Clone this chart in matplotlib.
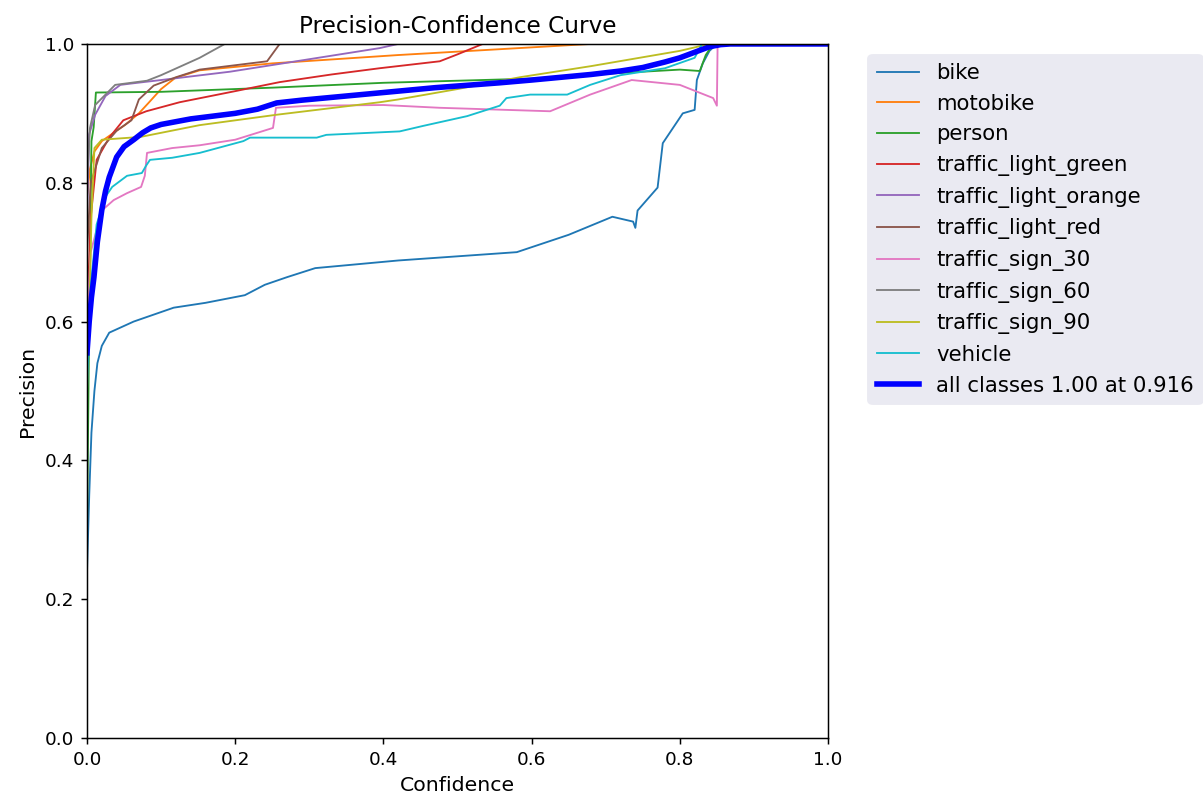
import numpy as np
import matplotlib
matplotlib.use('Agg')
import matplotlib.pyplot as plt

# confidence / precision knots per class
names = ['bike', 'motobike', 'person', 'traffic_light_green', 'traffic_light_orange',
         'traffic_light_red', 'traffic_sign_30', 'traffic_sign_60', 'traffic_sign_90', 'vehicle']

bike_x = [0, 0.003, 0.006, 0.01, 0.014, 0.02, 0.03, 0.063, 0.117, 0.16, 0.213, 0.24, 0.27,
          0.308, 0.42, 0.58, 0.65, 0.709, 0.737, 0.74, 0.743, 0.77, 0.777, 0.804, 0.82,
          0.823, 0.831, 0.84, 0.85, 1.0]
bike_y = [0.24, 0.35, 0.44, 0.5, 0.54, 0.565, 0.584, 0.6, 0.62, 0.627, 0.638, 0.653, 0.664,
          0.677, 0.688, 0.70, 0.725, 0.751, 0.744, 0.735, 0.76, 0.793, 0.857, 0.9, 0.905,
          0.948, 0.972, 0.99, 1.0, 1.0]

motobike_x = [0, 0.004, 0.01, 0.02, 0.04, 0.051, 0.07, 0.083, 0.1, 0.119, 0.152, 0.25, 0.42, 0.534, 0.68, 1.0]
motobike_y = [0.78, 0.82, 0.845, 0.86, 0.875, 0.883, 0.9, 0.915, 0.935, 0.951, 0.962, 0.972, 0.984, 0.991, 1.0, 1.0]

person_x = [0, 0.003, 0.006, 0.009, 0.012, 0.1, 0.25, 0.4, 0.6, 0.7, 0.8, 0.827, 0.835, 0.845, 1.0]
person_y = [0.3, 0.6, 0.86, 0.88, 0.93, 0.931, 0.937, 0.944, 0.95, 0.957, 0.963, 0.961, 0.984, 1.0, 1.0]

tl_green_x = [0, 0.005, 0.013, 0.03, 0.049, 0.08, 0.125, 0.2, 0.26, 0.33, 0.395, 0.476, 0.5, 0.534, 1.0]
tl_green_y = [0.6, 0.75, 0.833, 0.865, 0.89, 0.903, 0.916, 0.932, 0.945, 0.956, 0.965, 0.975, 0.985, 1.0, 1.0]

tl_orange_x = [0, 0.003, 0.011, 0.025, 0.045, 0.06, 0.1, 0.193, 0.3, 0.395, 0.42, 1.0]
tl_orange_y = [0.75, 0.87, 0.898, 0.925, 0.941, 0.943, 0.948, 0.96, 0.978, 0.994, 1.0, 1.0]

tl_red_x = [0, 0.005, 0.02, 0.04, 0.06, 0.07, 0.09, 0.12, 0.152, 0.243, 0.26, 1.0]
tl_red_y = [0.7, 0.8, 0.85, 0.875, 0.89, 0.92, 0.94, 0.952, 0.963, 0.975, 1.0, 1.0]

sign30_x = [0, 0.005, 0.02, 0.036, 0.054, 0.073, 0.078, 0.081, 0.115, 0.152, 0.2, 0.251, 0.255,
            0.3, 0.4, 0.476, 0.625, 0.679, 0.735, 0.8, 0.845, 0.85, 0.851, 1.0]
sign30_y = [0.6, 0.7, 0.76, 0.775, 0.785, 0.794, 0.81, 0.843, 0.85, 0.854, 0.862, 0.879, 0.908,
            0.911, 0.912, 0.908, 0.903, 0.927, 0.948, 0.941, 0.922, 0.911, 1.0, 1.0]

sign60_x = [0, 0.004, 0.011, 0.038, 0.081, 0.1, 0.125, 0.152, 0.186, 1.0]
sign60_y = [0.8, 0.879, 0.912, 0.941, 0.947, 0.955, 0.967, 0.98, 1.0, 1.0]

sign90_x = [0, 0.003, 0.006, 0.01, 0.02, 0.072, 0.152, 0.256, 0.395, 0.42, 0.5, 0.584, 0.68, 0.8, 0.84, 1.0]
sign90_y = [0.5, 0.6, 0.75, 0.85, 0.862, 0.866, 0.883, 0.898, 0.916, 0.92, 0.935, 0.952, 0.968, 0.99, 1.0, 1.0]

vehicle_x = [0, 0.005, 0.013, 0.025, 0.034, 0.054, 0.074, 0.08, 0.085, 0.115, 0.152, 0.211, 0.22,
             0.31, 0.323, 0.422, 0.454, 0.513, 0.557, 0.566, 0.598, 0.648, 0.679, 0.72, 0.78,
             0.82, 0.83, 1.0]
vehicle_y = [0.5, 0.65, 0.74, 0.78, 0.794, 0.81, 0.814, 0.825, 0.833, 0.836, 0.843, 0.86, 0.865,
             0.865, 0.869, 0.874, 0.882, 0.896, 0.911, 0.922, 0.927, 0.927, 0.941, 0.955, 0.965,
             0.98, 1.0, 1.0]

# mean over classes
all_x = [0, 0.003, 0.006, 0.0094, 0.014, 0.02, 0.025, 0.03, 0.04, 0.05, 0.063, 0.075, 0.086,
         0.1, 0.115, 0.14, 0.17, 0.2, 0.23, 0.256, 0.29, 0.33, 0.38, 0.42, 0.47, 0.52, 0.557,
         0.6, 0.64, 0.68, 0.72, 0.75, 0.78, 0.8, 0.82, 0.84, 0.855, 0.868, 1.0]
all_y = [0.555, 0.6, 0.635, 0.664, 0.715, 0.761, 0.788, 0.808, 0.837, 0.852, 0.862, 0.872, 0.879,
         0.884, 0.887, 0.892, 0.896, 0.9, 0.906, 0.915, 0.919, 0.923, 0.928, 0.932, 0.937, 0.941,
         0.944, 0.948, 0.952, 0.956, 0.961, 0.966, 0.974, 0.98, 0.988, 0.996, 0.999, 1.0, 1.0]
best_conf = 0.916

curves = [(bike_x, bike_y), (motobike_x, motobike_y), (person_x, person_y),
          (tl_green_x, tl_green_y), (tl_orange_x, tl_orange_y), (tl_red_x, tl_red_y),
          (sign30_x, sign30_y), (sign60_x, sign60_y), (sign90_x, sign90_y),
          (vehicle_x, vehicle_y)]

fig = plt.figure(figsize=(9.025, 5.987), dpi=133.3)
ax = fig.add_axes([87 / 1203, 60 / 798, 741 / 1203, 694 / 798])

for name, (cx, cy) in zip(names, curves):
    ax.plot(cx, cy, linewidth=1, label=name)

ax.plot(all_x, all_y, linewidth=3, color='blue',
        label='all classes {:.2f} at {:.3f}'.format(np.interp(best_conf, all_x, all_y), best_conf))

ax.set_xlabel('Confidence', fontsize=11)
ax.set_ylabel('Precision', fontsize=11)
ax.set_xlim(0, 1)
ax.set_ylim(0, 1)
ax.set_title('Precision-Confidence Curve', fontsize=12.5)
leg = ax.legend(bbox_to_anchor=(1.04, 1), loc='upper left', facecolor='#eaeaf2',
                edgecolor='#eaeaf2', framealpha=1, fontsize=11.5)

fig.savefig('out.png', dpi=133.3)
